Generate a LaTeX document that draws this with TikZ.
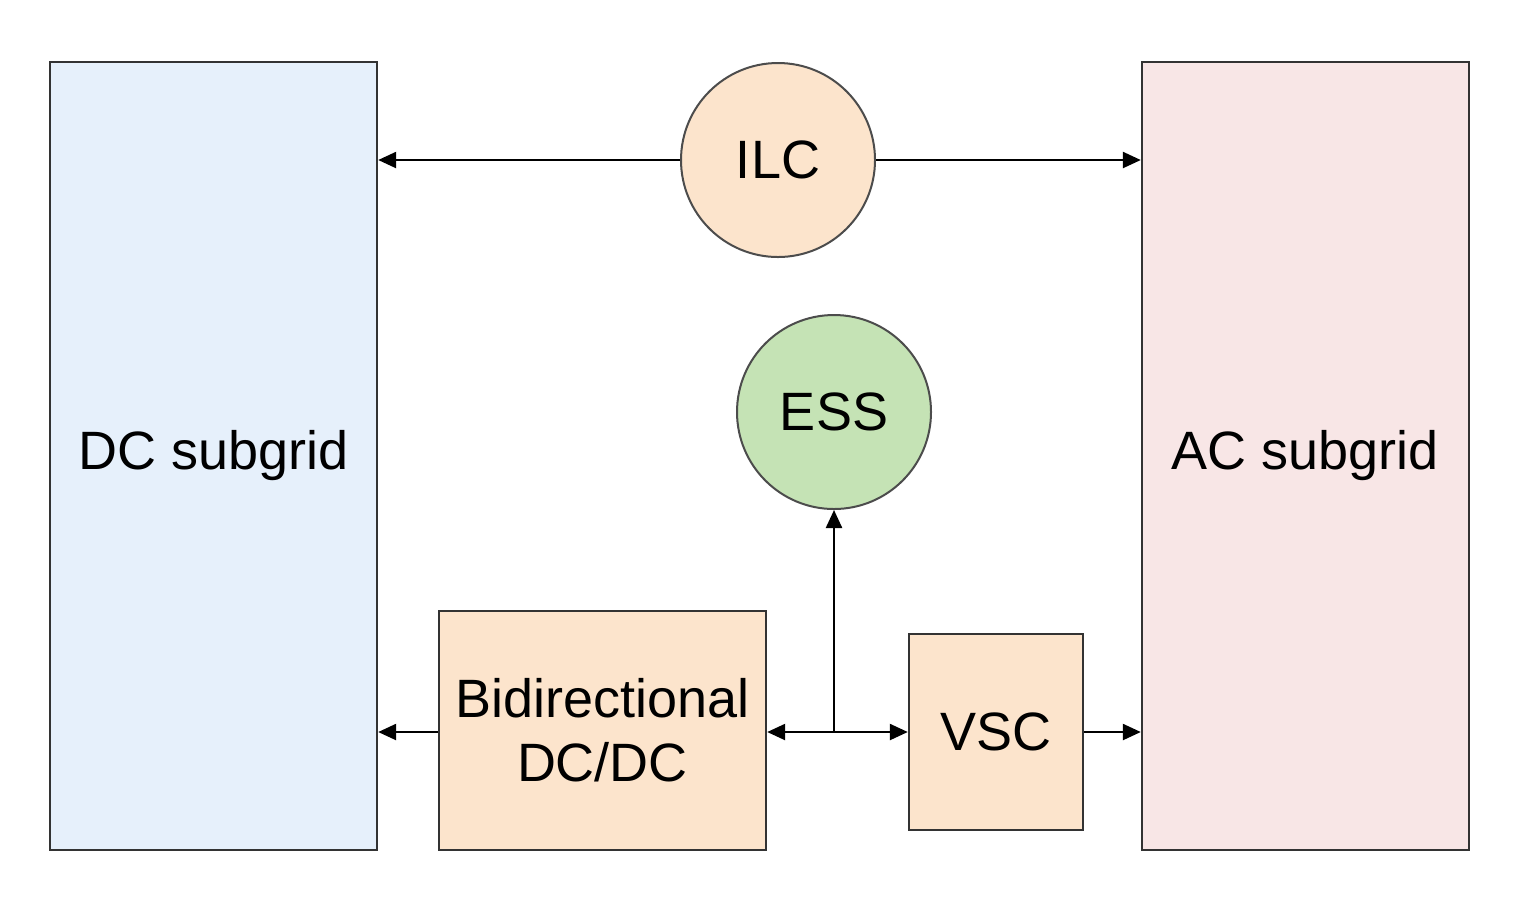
\documentclass[tikz,border=0pt]{standalone}
\usepackage{fontspec}
\setmainfont{Liberation Sans}
\usetikzlibrary{arrows.meta}
\begin{document}
\begin{tikzpicture}[x=0.5pt,y=-0.5pt,
 box/.style={draw=black!80,line width=1.2pt,inner sep=0pt,align=center,font=\fontsize{27}{32}\selectfont},
 circ/.style={circle,draw=black!70,line width=1pt,inner sep=0pt,minimum size=97pt,font=\fontsize{27}{32}\selectfont},
 conn/.style={line width=1.2pt,-{Triangle[length=9pt,width=8pt]}}]
\useasboundingbox (0,0) rectangle (1524,902);
\node[box,fill={rgb,255:red,230;green,240;blue,251},minimum width=163.5pt,minimum height=394pt] (dc) at (213.5,456) {DC subgrid};
\node[box,fill={rgb,255:red,248;green,230;blue,230},minimum width=163.5pt,minimum height=394pt] (ac) at (1305.5,456) {AC subgrid};
\node[circ,fill={rgb,255:red,252;green,228;blue,204}] (ilc) at (778,160) {ILC};
\node[circ,fill={rgb,255:red,197;green,227;blue,181}] (ess) at (834,412) {ESS};
\node[box,fill={rgb,255:red,252;green,228;blue,204},minimum width=163.5pt,minimum height=119.5pt] (bd) at (602.5,730.5) {Bidirectional\\DC/DC};
\node[box,fill={rgb,255:red,252;green,228;blue,204},minimum width=87pt,minimum height=98pt] (vsc) at (996,732) {VSC};
\coordinate (j) at (834,732);
\draw[conn] (ilc.west) -- (dc.east |- ilc.west);
\draw[conn] (ilc.east) -- (ac.west |- ilc.east);
\draw[conn] (bd.west |- j) -- (dc.east |- j);
\draw[conn] (j) -- (bd.east |- j);
\draw[conn] (j) -- (vsc.west |- j);
\draw[conn] (j) -- (ess.south);
\draw[conn] (vsc.east |- j) -- (ac.west |- j);
\end{tikzpicture}
\end{document}
